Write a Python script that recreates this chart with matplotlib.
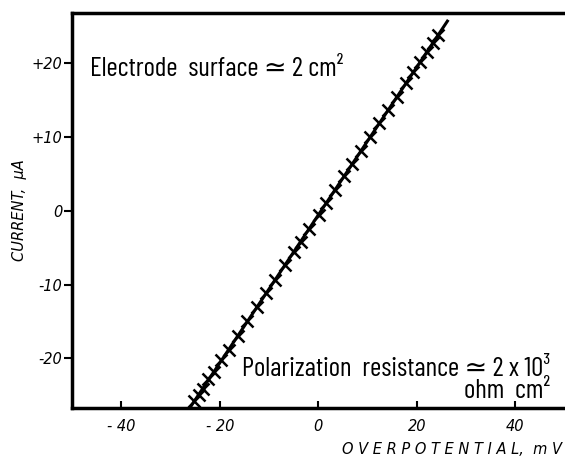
import numpy as np
import matplotlib
matplotlib.use("Agg")
import matplotlib.pyplot as plt

plt.rcParams['font.family'] = ['Barlow Condensed', 'DejaVu Sans']

# measured points (mV, uA)
overpotential = [-25.2, -24.3, -23.4, -22.3, -21.1, -19.7, -18.1, -16.3, -14.4, -12.5,
                 -10.6, -8.7, -6.8, -4.9, -3.6, -1.9, 0.1, 1.6, 3.4, 5.2,
                 6.9, 8.7, 10.5, 12.4, 14.2, 16.0, 17.8, 19.3, 20.7, 22.0,
                 23.2, 24.3]
current = [-25.7, -24.9, -24.1, -22.8, -21.8, -20.2, -18.8, -16.9, -15.0, -13.1,
           -11.2, -9.4, -7.3, -5.6, -4.2, -2.5, -0.6, 1.0, 2.8, 4.6,
           6.3, 8.1, 9.9, 11.8, 13.6, 15.4, 17.3, 18.7, 20.1, 21.4,
           22.6, 23.7]
# fitted straight line
fit_x = [-27.0, 26.2]
fit_y = [-27.6, 25.6]

xticks = [-40, -20, 0, 20, 40]
xticklabels = ['- 40', '- 20', '0', '20', '40']
yticks = [20, 10, 0, -10, -20]
yticklabels = ['+20', '+10', '0', '-10', '-20']

lab = dict(family=['DejaVu Sans'], fontstyle='italic')

fig = plt.figure(figsize=(5.65, 4.59), dpi=100)
ax = fig.add_axes([0.1274, 0.111, 0.872, 0.8607])

ax.plot(fit_x, fit_y, color='black', lw=2.2)
ax.plot(overpotential, current, ls='none', marker='x', color='black',
        markersize=8, mew=1.8)

ax.set_xlim(-50, 50)
ax.set_ylim(-26.7, 26.7)

for s in ['left', 'bottom', 'top']:
    ax.spines[s].set_linewidth(2.5)
ax.spines['right'].set_visible(False)

ax.set_xticks(xticks)
ax.set_xticklabels(xticklabels, fontsize=10.5, **lab)
ax.set_yticks(yticks)
ax.set_yticklabels(yticklabels, fontsize=10.5, **lab)
ax.tick_params(axis='x', direction='in', length=5, width=1.5, pad=8)
ax.tick_params(axis='y', direction='out', length=6, width=1.5, pad=1)

ax.set_ylabel('CURRENT,  µA', fontsize=10.5, labelpad=3, **lab)
ax.text(0.995, -0.085, 'O V E R P O T E N T I A L,  m V', transform=ax.transAxes,
        ha='right', va='top', fontsize=10.5, **lab)

ax.text(-46.3, 18.2, 'Electrode  surface \u2243 2 cm\u00b2', fontsize=19.5, ha='left',
        va='baseline')
ax.text(47, -22.4, 'Polarization  resistance \u2243 2 x 10\u00b3', fontsize=19.5,
        ha='right', va='baseline')
ax.text(47, -25.4, 'ohm  cm\u00b2', fontsize=19.5, ha='right', va='baseline')

plt.savefig('out.png', dpi=100)
